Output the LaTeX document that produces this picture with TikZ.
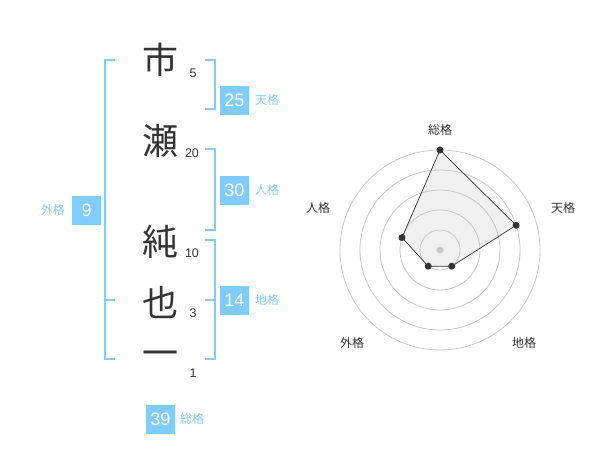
\documentclass[tikz,border=0pt]{standalone}
\usepackage{fontspec}
\setmainfont{Liberation Sans}
\newfontfamily\jpfont{Noto Sans CJK JP}
\usetikzlibrary{calc}
\usetikzlibrary{positioning}
\definecolor{kakublue}{RGB}{128,204,255}
\definecolor{inkgray}{RGB}{51,51,51}
\tikzstyle{namechar} = [inkgray, font=\jpfont\fontsize{36}{36}\selectfont, inner sep=0pt]
\tikzstyle{strokenum} = [inkgray, font=\fontsize{12.5}{12.5}\selectfont, inner sep=0pt]
\tikzstyle{kakubox} = [fill=kakublue, text=white, minimum size=28.7pt, inner sep=0pt, font=\fontsize{18}{18}\selectfont]
\tikzstyle{kakulabel} = [kakublue, font=\jpfont\fontsize{12}{12}\selectfont, inner sep=0pt]
\tikzstyle{bracket} = [kakublue, line width=2pt]
\tikzstyle{ring} = [black!22, line width=0.8pt]
\tikzstyle{vertex} = [circle, fill=inkgray, inner sep=0pt, minimum size=7pt]
\tikzstyle{axislabel} = [inkgray, font=\jpfont\fontsize{12}{12}\selectfont, inner sep=0pt]

\begin{document}
\begin{tikzpicture}[x=1pt, y=-1pt]
  \useasboundingbox (0,0) rectangle (600,470);

  % name characters and stroke counts
  \node[namechar] (c1) at (160,60) {市};
  \node[namechar] (c2) at (160,141) {瀬};
  \node[namechar] (c3) at (160,242) {純};
  \node[namechar] (c4) at (160,302) {也};
  \node[namechar] (c5) at (160,359) {一};
  \node[strokenum] (n1) at (193,73) {5};
  \node[strokenum] (n2) at (192,153) {20};
  \node[strokenum] (n3) at (192,253) {10};
  \node[strokenum] (n4) at (193,313) {3};
  \node[strokenum] (n5) at (193,373) {1};

  % brackets
  \draw[bracket] (205,60) -- (215,60) -- (215,109) -- (205,109);
  \draw[bracket] (205,149) -- (215,149) -- (215,230) -- (205,230);
  \draw[bracket] (205,240) -- (215,240) -- (215,359) -- (205,359);
  \draw[bracket] (205,300) -- (215,300);
  \draw[bracket] (115,60) -- (105,60) -- (105,359) -- (115,359);
  \draw[bracket] (105,300) -- (115,300);

  % scores
  \node[kakubox] (ten) at (234.3,100.3) {25};
  \node[kakulabel, right=6pt of ten] (tenL) {天格};
  \node[kakubox] (jin) at (234.3,190.3) {30};
  \node[kakulabel, right=6pt of jin] (jinL) {人格};
  \node[kakubox] (chi) at (234.3,300.3) {14};
  \node[kakulabel, right=6pt of chi] (chiL) {地格};
  \node[kakubox] (gai) at (86.7,210.3) {9};
  \node[kakulabel, left=7pt of gai] (gaiL) {外格};
  \node[kakubox] (sou) at (160.3,419.3) {39};
  \node[kakulabel, right=5pt of sou] (souL) {総格};

  % radar chart
  \coordinate (o) at (440,250);
  \coordinate (p1) at ($(o)+(0,-100)$);
  \coordinate (p2) at ($(o)+(76.1,-24.7)$);
  \coordinate (p3) at ($(o)+(11.8,16.2)$);
  \coordinate (p4) at ($(o)+(-11.8,16.2)$);
  \coordinate (p5) at ($(o)+(-38.0,-12.4)$);
  \fill[black!6] (p1) -- (p2) -- (p3) -- (p4) -- (p5) -- cycle;
  \foreach \r in {20,40,60,80,100}
    \draw[ring] (o) circle (\r);
  \fill[black!22] (o) circle (3.5);
  \draw[inkgray, line width=0.7pt]
    (p1) -- (p2) -- (p3) -- (p4) -- (p5) -- cycle;
  \foreach \p in {p1,p2,p3,p4,p5}
    \node[vertex] at (\p) {};

  \node[axislabel] (a1) at (440,130) {総格};
  \node[axislabel] (a2) at (563,208) {天格};
  \node[axislabel] (a3) at (524,343) {地格};
  \node[axislabel] (a4) at (352,343) {外格};
  \node[axislabel] (a5) at (318,208) {人格};
\end{tikzpicture}
\end{document}
